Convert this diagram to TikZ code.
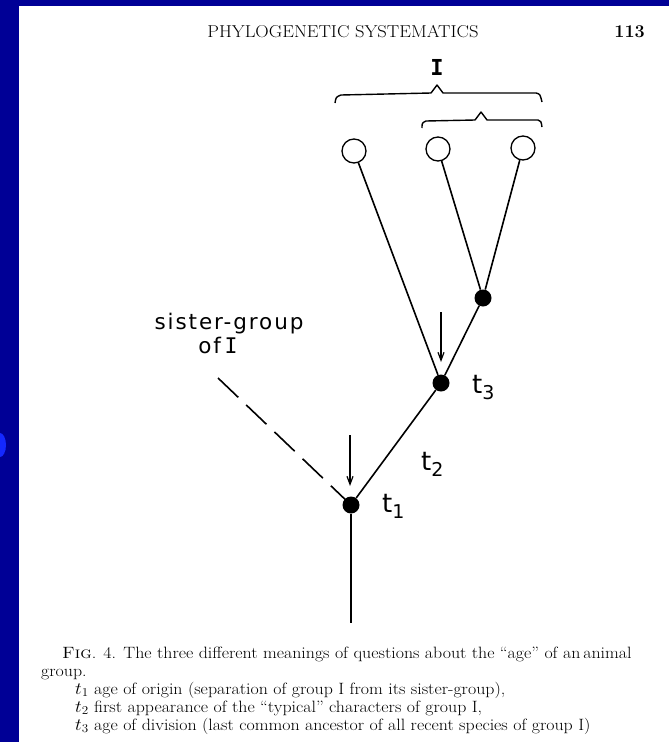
\documentclass[tikz,border=0pt]{standalone}
\usepackage{fontspec}
\usetikzlibrary{arrows.meta}
\newfontfamily\lab[LetterSpace=9]{DejaVu Sans}
\newfontfamily\labt{DejaVu Sans}
\newfontfamily\labmono{DejaVu Sans Mono}
\definecolor{slideblue}{RGB}{0,0,150}
\definecolor{bulletblue}{RGB}{20,40,255}
\tikzset{
  branch/.style={line width=1.6pt},
  tip/.style={circle,draw,line width=1.3pt,minimum size=24pt,inner sep=0pt,fill=white},
  dotnode/.style={circle,fill=black,minimum size=17pt,inner sep=0pt},
  mark arrow/.style={line width=1.2pt,-{Straight Barb[length=8pt,width=6pt,line width=1.2pt]}},
  bracepath/.style={line width=1.4pt,line join=round},
  tlabel/.style={anchor=base west,inner sep=0pt,font=\labt\fontsize{26}{26}\selectfont},
  sglabel/.style={anchor=base,inner sep=0pt,font=\lab\fontsize{21.5}{22}\selectfont},
  caption/.style={anchor=base west,inner sep=0pt,font=\fontsize{16.4}{18}\selectfont}
}
\newcommand{\tsub}[2]{t\raisebox{-6pt}{\fontsize{19}{19}\selectfont #2}}
\newcommand{\wide}[1]{\scalebox{1.09}[1]{#1}}
\begin{document}
\begin{tikzpicture}[x=1pt,y=-1pt]
\fill[slideblue] (0,0) rectangle (669,742);
\fill[white] (19,6) rectangle (669,742);
\useasboundingbox (0,0) rectangle (669,742);
\begin{scope}
  \clip (0,0) rectangle (19,742);
  \fill[bulletblue] (0,445) ellipse (6 and 12);
\end{scope}

% header
\node[anchor=base,inner sep=0pt,font=\fontsize{17.2}{18}\selectfont] (head) at (343,37) {\scalebox{1.08}[1]{PHYLOGENETIC SYSTEMATICS}};
\node[anchor=base east,inner sep=0pt,font=\fontsize{18}{18}\selectfont\bfseries] (page) at (645,37) {113};

% braces
\node[inner sep=0pt,font=\labmono\bfseries\fontsize{22}{22}\selectfont] (labI) at (437,67) {I};
\draw[bracepath] (335,103) .. controls (336,97) .. (341,95) -- (431,93) -- (437,85) -- (443,93) -- (536,93) .. controls (540,94) .. (542,102);
\draw[bracepath] (422,128) .. controls (422,123) .. (426,121) -- (475,120) -- (481,112) -- (487,120) -- (538,120) .. controls (541,121) .. (542,127);

% tree nodes
\node[tip] (c1) at (354,151) {};
\node[tip] (c2) at (438,149) {};
\node[tip] (c3) at (523,148) {};
\node[dotnode] (n4) at (483,298) {};
\node[dotnode] (t3) at (441,383) {};
\node[dotnode] (t1) at (351,505) {};
\coordinate (root) at (351,623);
\coordinate (sis) at (218,378);

\draw[branch] (c1) -- (t3);
\draw[branch] (c2) -- (n4);
\draw[branch] (c3) -- (n4);
\draw[branch] (n4) -- (t3);
\draw[branch] (t3) -- (t1);
\draw[branch] (t1) -- (root);
\draw[branch,dash pattern=on 28pt off 11pt] (sis) -- (t1.center);

% arrows
\coordinate (a3s) at (441,312);
\coordinate (a3e) at (441,362);
\coordinate (a1s) at (350,435);
\coordinate (a1e) at (350,486);
\draw[mark arrow] (a3s) -- (a3e);
\draw[mark arrow] (a1s) -- (a1e);

% labels
\node[sglabel] (sg1) at (229,329) {sister-group};
\node[sglabel] (sg2) at (218,353) {of\,{\labmono I}};
\node[tlabel] (lt3) at (472,393) {\tsub{t}{3}};
\node[tlabel] (lt2) at (421,470) {\tsub{t}{2}};
\node[tlabel] (lt1) at (382,512) {\tsub{t}{1}};

% caption
\node[caption] (cap1) at (62,658) {\wide{\textsc{Fig}. 4. The three different meanings of questions about the ``age'' of an\,animal}};
\node[caption] (cap2) at (41,676) {\wide{group.}};
\node[caption] (cap3) at (75,694) {\wide{$t_{1}$ age of origin (separation of group I from its sister-group),}};
\node[caption] (cap4) at (75,712) {\wide{$t_{2}$ first appearance of the ``typical'' characters of group I,}};
\node[caption] (cap5) at (75,730) {\wide{$t_{3}$ age of division (last common ancestor of all recent species of group I)}};
\end{tikzpicture}
\end{document}
